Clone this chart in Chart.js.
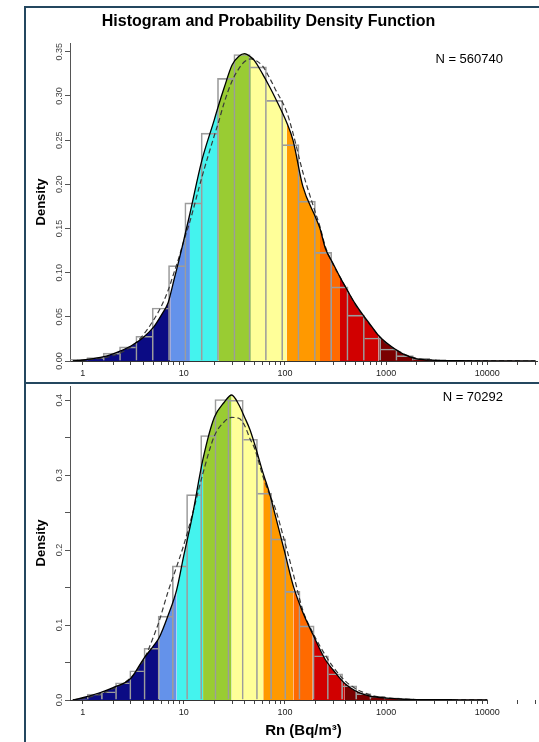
<!DOCTYPE html>
<html>
<head>
<meta charset="utf-8">
<title>Histogram and Probability Density Function</title>
<script src="https://cdn.jsdelivr.net/npm/chart.js@4.4.1/dist/chart.umd.min.js"></script>
<style>
  html, body { margin:0; padding:0; background:#fff; overflow:hidden; }
  #wrap { position:relative; width:539px; height:742px; overflow:hidden; background:#fff; }
  #frame { position:absolute; left:24px; top:6px; width:620px; height:820px; border:2px solid #24475f; }
  #divider { position:absolute; left:24px; top:382px; width:620px; height:2px; background:#24475f; }
  .cw { position:absolute; left:0; }
  .cw canvas { display:block; }
  .n { position:absolute; right:36px; font:13px "Liberation Sans", Arial, sans-serif; line-height:15px; color:#000; white-space:nowrap; }
</style>
</head>
<body>
<div id="wrap">
  <div id="frame"></div>
  <div id="divider"></div>
  <div class="cw" style="top:0"><canvas id="c1" width="539" height="382"></canvas></div>
  <div class="cw" style="top:384px"><canvas id="c2" width="539" height="358"></canvas></div>
  <div class="n" style="top:51px">N = 560740</div>
  <div class="n" style="top:389px">N = 70292</div>
</div>
<script>
// ---------- data ----------
// upper panel: density curves sampled at Rn values (Bq/m3)
const topX      = [0.8, 1, 1.5, 2, 3, 4, 5, 6, 7, 7.4, 8, 9, 10, 11.5, 15, 20, 22, 25, 30, 35, 40, 46, 50, 60, 70, 80, 104, 120, 150, 200, 222, 250, 300, 350, 400, 500, 600, 700, 840, 1000, 1500, 2000, 3000, 5000, 10000, 30000];
const topSolid  = [0, 0.001, 0.004, 0.008, 0.017, 0.027, 0.038, 0.052, 0.066, 0.076, 0.092, 0.115, 0.137, 0.167, 0.226, 0.273, 0.289, 0.309, 0.335, 0.345, 0.348, 0.344, 0.340, 0.325, 0.311, 0.298, 0.270, 0.250, 0.198, 0.163, 0.150, 0.128, 0.110, 0.095, 0.083, 0.064, 0.051, 0.041, 0.029, 0.021, 0.0075, 0.0025, 0.0008, 0.0003, 0.0002, 0.0001];
const topDashed = [0.0004, 0.001, 0.003, 0.006, 0.016, 0.030, 0.046, 0.062, 0.080, 0.088, 0.100, 0.118, 0.136, 0.158, 0.207, 0.255, 0.270, 0.292, 0.317, 0.331, 0.339, 0.342, 0.341, 0.334, 0.321, 0.308, 0.282, 0.258, 0.214, 0.168, 0.152, 0.130, 0.109, 0.095, 0.083, 0.063, 0.050, 0.040, 0.029, 0.020, 0.008, 0.003, 0.001, 0.0003, 0.0001, 0];
const topBins   = [0.914, 1.325, 1.921, 2.786, 4.04, 5.86, 8.50, 12.32, 17.86, 25.9, 37.6, 54.5, 79.0, 114.5, 166.1, 240.8, 349.3, 506.4, 734.3, 1065, 1544, 2239, 3246, 4708, 6826, 9897, 14350, 20810, 30170];
const topHist   = [0.002, 0.004, 0.009, 0.016, 0.028, 0.060, 0.108, 0.179, 0.258, 0.320, 0.347, 0.333, 0.295, 0.245, 0.181, 0.123, 0.084, 0.052, 0.026, 0.0136, 0.006, 0.003, 0.0015, 0.0008, 0.0005, 0.0003, 0.0002, 0.0001, 0.0001];
const topBreaks = [7.4, 11.5, 22, 46, 104, 222, 350, 840];

// lower panel
const bottomX      = [0.8, 1, 1.5, 2, 3, 4, 5, 5.7, 7, 8.5, 10, 12, 15.5, 20, 25, 29.7, 35, 40, 45, 50, 61, 70, 80, 100, 121, 150, 188, 250, 300, 390, 500, 600, 700, 1000, 1500, 2000, 3000, 5000, 10000];
const bottomSolid  = [0, 0.003, 0.010, 0.0165, 0.029, 0.055, 0.072, 0.083, 0.113, 0.147, 0.193, 0.242, 0.322, 0.377, 0.397, 0.407, 0.394, 0.377, 0.361, 0.342, 0.302, 0.277, 0.247, 0.196, 0.152, 0.117, 0.088, 0.054, 0.040, 0.022, 0.012, 0.0075, 0.005, 0.0025, 0.001, 0.0006, 0.0004, 0.0003, 0.0002];
const bottomDashed = [0.0005, 0.002, 0.008, 0.015, 0.030, 0.053, 0.084, 0.105, 0.145, 0.178, 0.207, 0.245, 0.303, 0.352, 0.371, 0.377, 0.376, 0.366, 0.349, 0.336, 0.297, 0.275, 0.256, 0.210, 0.168, 0.120, 0.090, 0.060, 0.044, 0.026, 0.015, 0.010, 0.0065, 0.003, 0.0012, 0.0006, 0.0003, 0.0002, 0.0001];
const bottomBins   = [0.943, 1.303, 1.800, 2.483, 3.433, 4.746, 6.545, 9.046, 12.51, 17.24, 23.84, 32.95, 45.54, 62.81, 86.84, 120.0, 165.5, 228.8, 316.2, 436.1, 602.8, 833.3, 1149, 1589, 2196, 3028, 4187, 5786, 7980];
const bottomHist   = [0.001, 0.008, 0.011, 0.023, 0.039, 0.069, 0.112, 0.179, 0.274, 0.353, 0.401, 0.400, 0.348, 0.276, 0.215, 0.145, 0.099, 0.059, 0.035, 0.019, 0.0085, 0.005, 0.003, 0.0015, 0.001, 0.0006, 0.0004, 0.0003, 0.0002];
const bottomBreaks = [5.7, 8.5, 15.5, 29.7, 61, 121, 188, 390];

// axes
const xTicks = [1,2,3,4,5,6,7,8,9,10,20,30,40,50,60,70,80,90,100,200,300,400,500,600,700,800,900,1000,2000,3000,4000,5000,6000,7000,8000,9000,10000,20000,30000];
const xTickLabels = [1, 10, 100, 1000, 10000];
const yTicksTop = [0, 0.05, 0.10, 0.15, 0.20, 0.25, 0.30, 0.35];
const yTicksBottom = [0, 0.05, 0.1, 0.15, 0.2, 0.25, 0.3, 0.35, 0.4];
const yLabelsBottom = [0, 0.1, 0.2, 0.3, 0.4];
const bottomAxisEnd = 10000;

const chartTitle = 'Histogram and Probability Density Function';
const xTitle = 'Rn (Bq/m³)';
const yTitle = 'Density';

// ---------- styles ----------
const classColors = ['#0b0b84', '#6492ea', '#44f3ee', '#99cc33', '#ffff99', '#ff9900', '#ff6a00', '#d10000', '#7a0000'];

Chart.defaults.font.family = "'Liberation Sans', Arial, Helvetica, sans-serif";
Chart.defaults.color = '#222';

function classOf(x, breaks) { let k = 0; while (k < breaks.length && x >= breaks[k]) k++; return k; }
function pts(xs, ys) { return xs.map((x, i) => ({x: x, y: ys[i]})); }

// draws the x axis line from the left end of the scale up to a given value
const partialAxis = {
  id: 'partialAxis',
  afterDatasetsDraw(chart, args, opts) {
    if (!opts || !opts.end) return;
    const xs = chart.scales.x, ctx = chart.ctx;
    const y = Math.round(chart.chartArea.bottom) + 0.5;
    ctx.save();
    ctx.strokeStyle = '#333'; ctx.lineWidth = 1;
    ctx.beginPath();
    ctx.moveTo(xs.left, y);
    ctx.lineTo(xs.getPixelForValue(opts.end), y);
    ctx.stroke();
    ctx.restore();
  }
};

function makePanel(id, o) {
  const histBorder = (c) => {
    const h = o.hist, i = c.dataIndex;
    const prev = i > 0 ? h[i - 1] : 0, next = i < h.length - 1 ? h[i + 1] : 0;
    return {top: 1, bottom: 0, left: h[i] >= prev ? 1 : 0, right: h[i] > next ? 1 : 0};
  };
  const chart = new Chart(document.getElementById(id), {
    type: 'bar',
    data: { datasets: [
      { type: 'line', data: pts(o.x, o.solid), borderColor: '#000', borderWidth: 1.3, pointRadius: 0, fill: false,
        cubicInterpolationMode: 'monotone', order: 0 },
      { type: 'line', data: pts(o.x, o.dashed), borderColor: '#3a3a3a', borderWidth: 1.2, borderDash: [5, 3], pointRadius: 0, fill: false,
        cubicInterpolationMode: 'monotone', order: 1 },
      { type: 'bar', data: pts(o.bins, o.hist), backgroundColor: 'rgba(0,0,0,0)', borderColor: '#9c9c9c', borderWidth: histBorder,
        borderSkipped: 'start', barPercentage: 1, categoryPercentage: 1, order: 2 },
      { type: 'line', data: pts(o.x, o.solid), borderWidth: 0, borderColor: 'rgba(0,0,0,0)', pointRadius: 0, fill: 'origin',
        backgroundColor: classColors[0], cubicInterpolationMode: 'monotone',
        segment: { backgroundColor: c => classColors[classOf(o.x[c.p0DataIndex], o.breaks)] }, order: 3 }
    ]},
    plugins: [partialAxis],
    options: {
      responsive: false, animation: false, events: [], devicePixelRatio: 1,
      layout: { padding: { left: 0, right: 2, top: o.padTop, bottom: 0 } },
      plugins: {
        legend: { display: false }, tooltip: { enabled: false },
        partialAxis: { end: o.axisEnd },
        title: o.title ? { display: true, text: o.title, color: '#000', font: { size: 16, weight: 'bold' }, padding: { top: 12, bottom: 11.8 } } : { display: false }
      },
      scales: {
        x: {
          type: 'logarithmic', min: 0.75, max: 31000, offset: false,
          grid: { display: true, drawOnChartArea: false, drawTicks: true, tickLength: 4, color: '#444', offset: false },
          border: { display: !o.axisEnd, color: '#333', width: 1 },
          afterBuildTicks: s => { s.ticks = xTicks.map(v => ({ value: v })); },
          afterFit: s => { s.height = o.xHeight; s.paddingLeft = 0; s.paddingRight = 0; },
          ticks: { autoSkip: false, maxRotation: 0, minRotation: 0, padding: 3, color: '#222', font: { size: 9 },
                   callback: v => xTickLabels.includes(v) ? String(v) : '' },
          title: o.xTitle ? { display: true, text: o.xTitle, color: '#000', font: { size: 15, weight: 'bold' }, padding: { top: 0, bottom: 2 } } : { display: false }
        },
        y: {
          type: 'linear', min: 0, max: o.yMax,
          grid: { drawOnChartArea: false, tickLength: 5, color: '#555' },
          border: { display: true, color: '#555', width: 1 },
          afterBuildTicks: s => { s.ticks = o.yTicks.map(v => ({ value: v })); },
          afterFit: s => { s.width = 70; s.paddingTop = 0; s.paddingBottom = 0; },
          ticks: { minRotation: 90, maxRotation: 90, crossAlign: 'center', padding: o.yPad, color: '#444', font: { size: 9 },
                   callback: o.yLabel },
          title: { display: true, text: yTitle, color: '#000', font: { size: 13, weight: 'bold' }, padding: { top: 34, bottom: 0 } }
        }
      }
    }
  });
  // width of one histogram bin, measured on the chart's own log scale
  const xs = chart.scales.x;
  const n = o.bins.length;
  chart.data.datasets[2].barThickness = Math.abs(xs.getPixelForValue(o.bins[n - 1]) - xs.getPixelForValue(o.bins[0])) / (n - 1);
  chart.update('none');
  return chart;
}

makePanel('c1', {
  x: topX, solid: topSolid, dashed: topDashed, bins: topBins, hist: topHist, breaks: topBreaks,
  yMax: 0.36, yTicks: yTicksTop, yPad: -3.7, padTop: 0, xHeight: 21, title: chartTitle, xTitle: null, axisEnd: null,
  yLabel: v => v.toFixed(2)
});
makePanel('c2', {
  x: bottomX, solid: bottomSolid, dashed: bottomDashed, bins: bottomBins, hist: bottomHist, breaks: bottomBreaks,
  yMax: 0.419, yTicks: yTicksBottom, yPad: -1.2, padTop: 2, xHeight: 42, title: null, xTitle: xTitle, axisEnd: bottomAxisEnd,
  yLabel: v => yLabelsBottom.some(l => Math.abs(l - v) < 1e-9) ? v.toFixed(1) : ''
});
</script>
</body>
</html>
